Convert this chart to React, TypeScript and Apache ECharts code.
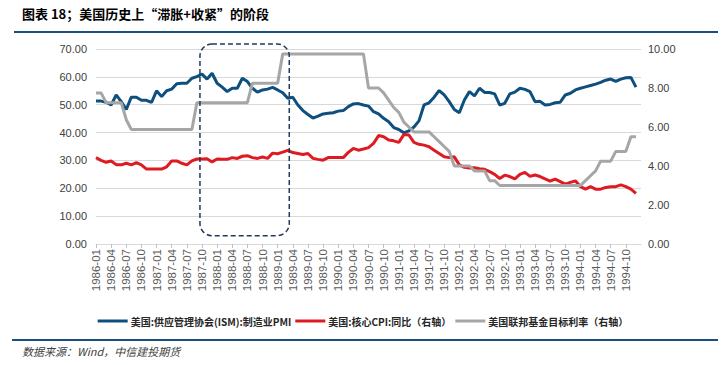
import React, { useEffect, useRef } from 'react';
import * as echarts from 'echarts';

const years = [1986, 1987, 1988, 1989, 1990, 1991, 1992, 1993, 1994];
const monthNames = ['01', '02', '03', '04', '05', '06', '07', '08', '09', '10', '11', '12'];
const categories: string[] = years
  .flatMap((y) => monthNames.map((m) => `${y}-${m}`))
  .concat(['1995-01']);

// 美国:供应管理协会(ISM):制造业PMI (left axis)
const pmi = [
  51.3, 51.3, 50.9, 49.9, 53.5, 51.1, 48.3, 52.7, 52.7, 51.6, 51.6, 50.8,
  55.0, 52.9, 55.0, 55.6, 57.5, 57.7, 57.7, 59.5, 60.1, 61.0, 59.2, 61.3,
  57.7, 56.3, 54.7, 55.9, 55.9, 59.5, 58.3, 55.9, 54.5, 55.3, 55.6, 56.2,
  55.3, 54.3, 52.3, 52.7, 49.9, 47.9, 46.5, 45.2, 45.9, 46.7, 46.9, 47.1,
  47.7, 47.9, 49.3, 50.3, 50.4, 49.9, 49.5, 47.5, 46.7, 45.1, 43.9, 41.8,
  41.1, 39.9, 40.6, 42.0, 44.2, 49.9, 50.7, 52.7, 55.1, 53.5, 51.1, 48.3,
  47.1, 51.7, 54.7, 53.2, 55.9, 54.4, 54.4, 53.9, 49.9, 50.5, 53.9, 54.5,
  55.9, 55.5, 54.7, 51.1, 51.2, 49.9, 50.1, 50.7, 50.9, 53.5, 54.1, 55.3,
  55.9, 56.4, 56.9, 57.4, 58.0, 58.8, 59.2, 58.4, 59.2, 59.7, 59.8, 56.3,
];

// 美国:核心CPI:同比 (right axis)
const coreCpi = [
  4.43, 4.29, 4.19, 4.26, 4.07, 4.06, 4.14, 4.06, 4.17, 4.06, 3.84, 3.84,
  3.84, 3.84, 3.96, 4.26, 4.26, 4.14, 4.06, 4.26, 4.36, 4.36, 4.37, 4.21,
  4.36, 4.34, 4.34, 4.43, 4.39, 4.5, 4.53, 4.43, 4.39, 4.46, 4.39, 4.66,
  4.63, 4.71, 4.8, 4.69, 4.64, 4.59, 4.64, 4.39, 4.34, 4.3, 4.43, 4.43,
  4.43, 4.43, 4.7, 4.9, 4.81, 4.87, 4.94, 5.16, 5.56, 5.5, 5.33, 5.29,
  5.21, 5.61, 5.59, 5.21, 5.11, 5.07, 4.99, 4.81, 4.64, 4.47, 4.43, 4.47,
  4.06, 3.93, 3.9, 3.91, 3.86, 3.83, 3.71, 3.57, 3.36, 3.53, 3.46, 3.34,
  3.57, 3.67, 3.47, 3.54, 3.46, 3.34, 3.23, 3.33, 3.2, 3.07, 3.16, 3.24,
  2.94, 2.81, 2.94, 2.81, 2.81, 2.9, 2.94, 2.94, 3.03, 2.94, 2.81, 2.6,
];

// 美国联邦基金目标利率 (right axis)
const fedFunds = [
  7.75, 7.75, 7.25, 7.25, 7.25, 7.25, 6.375, 5.875, 5.875, 5.875, 5.875, 5.875,
  5.875, 5.875, 5.875, 5.875, 5.875, 5.875, 5.875, 5.875, 7.25, 7.25, 7.25, 7.25,
  7.25, 7.25, 7.25, 7.25, 7.25, 7.25, 7.25, 8.25, 8.25, 8.25, 8.25, 8.25,
  8.25, 9.75, 9.75, 9.75, 9.75, 9.75, 9.75, 9.75, 9.75, 9.75, 9.75, 9.75,
  9.75, 9.75, 9.75, 9.75, 9.75, 9.75, 8.0, 8.0, 8.0, 7.75, 7.375, 7.0,
  6.75, 6.25, 6.0, 5.75, 5.75, 5.75, 5.75, 5.5, 5.25, 5.0, 4.75, 4.0,
  4.0, 4.0, 4.0, 3.75, 3.75, 3.75, 3.25, 3.25, 3.0, 3.0, 3.0, 3.0,
  3.0, 3.0, 3.0, 3.0, 3.0, 3.0, 3.0, 3.0, 3.0, 3.0, 3.0, 3.0,
  3.0, 3.25, 3.5, 3.75, 4.25, 4.25, 4.25, 4.75, 4.75, 4.75, 5.5, 5.5,
];

const seriesNames = [
  '美国:供应管理协会(ISM):制造业PMI',
  '美国:核心CPI:同比（右轴）',
  '美国联邦基金目标利率（右轴）',
];
const leftTicks = { min: 0, max: 70, interval: 10 };
const rightTicks = { min: 0, max: 10, interval: 2 };

// highlighted period (category index range) and value range of the dashed box
const boxStartIndex = 20.6;
const boxEndIndex = 38.3;
const boxTopValue = 71.8;
const boxBottomValue = 3.0;

const titleText = '图表 18；美国历史上“滞胀+收紧”的阶段';
const sourceText = '数据来源：Wind，中信建投期货';

const NUM_FONT = '"Liberation Sans", Arial, "Noto Sans CJK SC", sans-serif';
const CJK_FONT = '"Noto Sans CJK SC", "Liberation Sans", sans-serif';

export default function App() {
  const ref = useRef<HTMLDivElement>(null);

  useEffect(() => {
    if (!ref.current) return;
    const chart = echarts.init(ref.current, undefined, { renderer: 'svg' });
    const showLabel = (idx: number) => idx % 3 === 0 && idx <= 105;

    const option: any = {
      animation: false,
      grid: { left: 96, right: 85, top: 49, bottom: 121, containLabel: false },
      legend: {
        left: 'center',
        top: 311,
        itemWidth: 30,
        itemHeight: 3,
        itemGap: 4,
        icon: 'rect',
        textStyle: { fontSize: 10, fontWeight: 'bold', color: '#262626', fontFamily: CJK_FONT, padding: [0, 0, 0, -2] },
        data: seriesNames,
      },
      xAxis: {
        type: 'category',
        data: categories,
        boundaryGap: false,
        axisLine: { show: true, lineStyle: { color: '#d9d9d9' } },
        axisTick: { show: true, interval: (i: number) => showLabel(i), length: 4, lineStyle: { color: '#bfbfbf' } },
        axisLabel: {
          interval: (i: number) => showLabel(i),
          rotate: 90,
          margin: 5,
          fontSize: 11.5,
          color: '#595959',
          fontFamily: NUM_FONT,
        },
        splitLine: { show: false },
      },
      yAxis: [
        {
          type: 'value',
          ...leftTicks,
          position: 'left',
          axisLine: { show: false },
          axisTick: { show: false },
          axisLabel: { formatter: (v: number) => v.toFixed(2), fontSize: 11, color: '#404040', margin: 9, fontFamily: NUM_FONT },
          splitLine: { show: true, lineStyle: { color: '#d9d9d9', width: 1 } },
        },
        {
          type: 'value',
          ...rightTicks,
          position: 'right',
          axisLine: { show: false },
          axisTick: { show: false },
          axisLabel: { formatter: (v: number) => v.toFixed(2), fontSize: 11, color: '#404040', margin: 7, fontFamily: NUM_FONT },
          splitLine: { show: false },
        },
      ],
      series: [
        {
          name: seriesNames[0],
          type: 'line',
          data: pmi,
          yAxisIndex: 0,
          symbol: 'none',
          lineStyle: { width: 3, color: '#0D4F7E' },
          itemStyle: { color: '#0D4F7E' },
        },
        {
          name: seriesNames[1],
          type: 'line',
          data: coreCpi,
          yAxisIndex: 1,
          symbol: 'none',
          lineStyle: { width: 3, color: '#DE1A22' },
          itemStyle: { color: '#DE1A22' },
        },
        {
          name: seriesNames[2],
          type: 'line',
          data: fedFunds,
          yAxisIndex: 1,
          symbol: 'none',
          lineStyle: { width: 3, color: '#A6A6A6' },
          itemStyle: { color: '#A6A6A6' },
        },
      ],
      graphic: [
        {
          type: 'text',
          left: 22,
          top: 7,
          style: { text: titleText, fontSize: 13, fontWeight: 'bold', fill: '#000', fontFamily: CJK_FONT },
        },
        {
          type: 'line',
          shape: { x1: 14, y1: 32, x2: 718, y2: 32 },
          style: { stroke: '#1A4F7D', lineWidth: 2 },
        },
        {
          type: 'line',
          shape: { x1: 12, y1: 340, x2: 718, y2: 340 },
          style: { stroke: '#1A4F7D', lineWidth: 2 },
        },
        {
          type: 'text',
          left: 22,
          top: 345,
          style: { text: sourceText, fontSize: 11, fontStyle: 'italic', fill: '#404040', fontFamily: CJK_FONT },
        },
      ],
    };
    chart.setOption(option);

    const xAt = (f: number) => {
      const i0 = Math.floor(f);
      const p0 = chart.convertToPixel({ xAxisIndex: 0 }, i0) as number;
      const p1 = chart.convertToPixel({ xAxisIndex: 0 }, i0 + 1) as number;
      return p0 + (p1 - p0) * (f - i0);
    };
    const x1 = xAt(boxStartIndex);
    const x2 = xAt(boxEndIndex);
    const y1 = chart.convertToPixel({ yAxisIndex: 0 }, boxTopValue) as number;
    const y2 = chart.convertToPixel({ yAxisIndex: 0 }, boxBottomValue) as number;
    chart.setOption({
      graphic: [
        ...option.graphic,
        {
          type: 'rect',
          shape: { x: x1, y: y1, width: x2 - x1, height: y2 - y1, r: 12 },
          style: { fill: 'none', stroke: '#1F3A5F', lineWidth: 1.5, lineDash: [5, 3] },
          z: 100,
        },
      ],
    });

    return () => chart.dispose();
  }, []);

  return (
    <div
      ref={ref}
      style={{ position: 'fixed', left: 0, top: 0, width: 726, height: 365, background: '#fff' }}
    />
  );
}
